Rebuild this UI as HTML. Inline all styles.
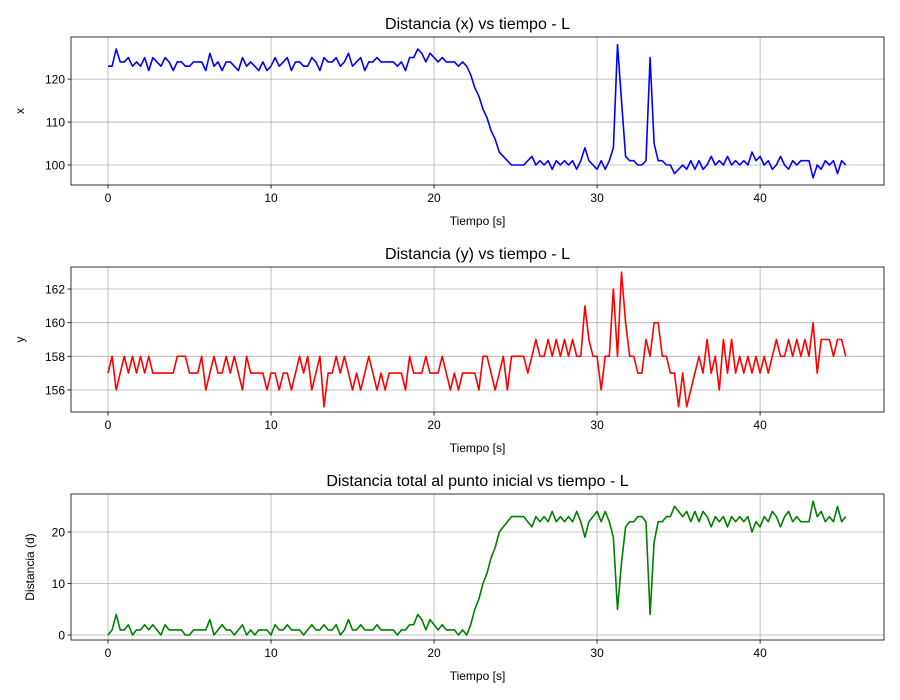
<!DOCTYPE html>
<html><head><meta charset="utf-8"><style>
body{margin:0;background:#fff;}
svg{display:block;font-family:"Liberation Sans","DejaVu Sans",sans-serif;}
</style></head><body>
<svg id="fig" width="900" height="700" xmlns="http://www.w3.org/2000/svg"></svg>
<script>
const xVals=[123,123,127,124,124,125,123,124,123,125,122,125,124,123,125,124,122,124,124,123,123,124,124,124,122,126,123,124,122,124,124,123,122,125,123,124,123,122,124,122,123,125,123,124,125,122,124,124,123,123,125,124,122,125,124,124,125,123,124,126,123,124,125,122,124,124,125,124,124,124,124,123,124,122,125,125,127,126,124,126,125,124,125,124,124,124,123,124,123,121,118,116,113,111,108,106,103,102,101,100,100,100,100,101,102,100,101,100,101,99,101,100,101,100,101,99,101,104,101,100,99,101,99,101,104,128,115,102,101,101,100,100,101,125,105,101,101,100,100,98,99,100,99,101,99,101,99,100,102,100,101,100,102,100,101,100,101,100,103,101,102,100,101,99,100,102,100,99,101,100,101,101,101,97,100,99,101,100,101,98,101,100];
const yVals=[157,158,156,157,158,157,158,157,158,157,158,157,157,157,157,157,157,158,158,158,157,157,157,158,156,157,158,157,157,158,157,158,157,156,158,157,157,157,157,156,157,157,156,157,157,156,157,158,157,158,156,157,158,155,157,157,158,157,158,157,156,157,156,157,158,157,156,157,156,157,157,157,157,156,158,157,157,157,158,157,157,157,158,157,156,157,156,157,157,157,157,156,158,158,157,156,157,158,156,158,158,158,158,157,158,159,158,158,159,158,159,158,159,158,159,158,158,161,159,158,158,156,158,158,162,158,163,160,158,158,157,157,159,158,160,160,158,158,157,157,155,157,155,156,157,158,157,159,157,158,156,159,157,159,157,158,157,158,157,158,157,158,157,158,159,158,158,159,158,159,158,159,158,160,157,159,159,159,158,159,159,158];
const dVals=[0,1,4,1,1,2,0,1,1,2,1,2,1,0,2,1,1,1,1,0,0,1,1,1,1,3,0,1,2,1,1,0,1,2,0,1,0,1,1,1,0,2,1,1,2,1,1,1,0,1,2,1,1,2,1,1,2,0,1,3,1,1,2,1,1,1,2,1,1,1,1,0,1,1,2,2,4,3,1,3,2,1,2,1,1,1,0,1,0,2,5,7,10,12,15,17,20,21,22,23,23,23,23,22,21,23,22,23,22,24,22,23,22,23,22,24,22,19,22,23,24,22,24,22,19,5,14,21,22,22,23,23,22,4,18,22,22,23,23,25,24,23,24,22,24,22,24,23,21,23,22,23,21,23,22,23,22,23,20,22,21,23,22,24,23,21,23,24,22,23,22,22,22,26,23,24,22,23,22,25,22,23];
const tStep=0.25;
const xTicks=[0,10,20,30,40];
const yTicks1=[100,110,120];
const yTicks2=[156,158,160,162];
const yTicks3=[0,10,20];

const NS="http://www.w3.org/2000/svg";
const svg=document.getElementById('fig');
function mk(tag,attrs,parent){const e=document.createElementNS(NS,tag);for(const k in attrs)e.setAttribute(k,attrs[k]);(parent||svg).appendChild(e);return e;}
const L=71,R=884,xmin=-2.27,xmax=47.6;
const sx=t=>L+(t-xmin)/(xmax-xmin)*(R-L);
function panel(key,top,bot,ymin,ymax,yTicks,vals,color,title,ylab,ylabX){
  const g=mk('g',{});
  
  
  const sy=v=>bot-(v-ymin)/(ymax-ymin)*(bot-top);
  xTicks.forEach(t=>{const x=sx(t);
    const gl=mk('line',{x1:x,x2:x,y1:top,y2:bot,stroke:'#b0b0b0','stroke-width':0.8},g);
    
    mk('line',{x1:x,x2:x,y1:bot,y2:bot+3.5,stroke:'#000','stroke-width':0.8},g);
    const tx=mk('text',{x:x,y:bot+17,'font-size':12,'text-anchor':'middle'},g);tx.textContent=t;
    });
  yTicks.forEach(v=>{const y=sy(v);
    const gl=mk('line',{x1:L,x2:R,y1:y,y2:y,stroke:'#b0b0b0','stroke-width':0.8},g);
    
    mk('line',{x1:L-3.5,x2:L,y1:y,y2:y,stroke:'#000','stroke-width':0.8},g);
    const tx=mk('text',{x:L-6,y:y+4.5,'font-size':12,'text-anchor':'end'},g);tx.textContent=v;
    });
  const pts=vals.map((v,i)=>sx(i*tStep).toFixed(1)+','+sy(v).toFixed(1)).join(' ');
  const pl=mk('polyline',{points:pts,fill:'none',stroke:color,'stroke-width':1.6,'stroke-linejoin':'round'},g);
  
  const fr=mk('rect',{x:L,y:top,width:R-L,height:bot-top,fill:'none',stroke:'#000','stroke-width':0.8},g);
  
  const ti=mk('text',{x:(L+R)/2,y:top-8,'font-size':16,'text-anchor':'middle'},g);ti.textContent=title;
  
  const xl=mk('text',{x:(L+R)/2,y:bot+40,'font-size':12,'text-anchor':'middle'},g);xl.textContent='Tiempo [s]';
  
  const cy=(top+bot)/2;
  const yl=mk('text',{x:ylabX,y:cy,'font-size':12,'text-anchor':'middle',transform:'rotate(-90 '+ylabX+' '+cy+')'},g);yl.textContent=ylab;
  
}
panel('x',37,185,95.35,129.8,yTicks1,xVals,'#0000ff','Distancia (x) vs tiempo - L','x',24);
panel('y',267,412,154.69,163.31,yTicks2,yVals,'#ff0000','Distancia (y) vs tiempo - L','y',24);
panel('d',494,640,-0.97,27.38,yTicks3,dVals,'#008000','Distancia total al punto inicial vs tiempo - L','Distancia (d)',34);
</script>
</body></html>
